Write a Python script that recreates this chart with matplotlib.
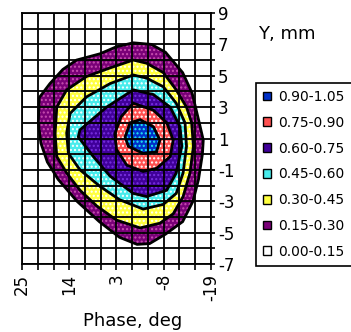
import matplotlib.pyplot as plt
from matplotlib.patches import Patch
import numpy as np

plt.rcParams['font.family'] = 'DejaVu Sans'
plt.rcParams['axes.unicode_minus'] = False
plt.rcParams['hatch.linewidth'] = 1.0

levels = ['0.00-0.15', '0.15-0.30', '0.30-0.45', '0.45-0.60',
          '0.60-0.75', '0.75-0.90', '0.90-1.05']
face = ['#FFFFFF', '#7A0078', '#FFFF40', '#48ECEC', '#40009A', '#FF5050', '#0030C8']
dots = ['#FFFFFF', '#C850B0', '#FFFFFF', '#FFFFFF', '#7830E0', '#FFFFFF', '#20E8F0']

# contour boundaries: phase (deg), Y (mm)
ph_015 = [-0.9, 3.0, 6.85, 12.3, 15.5, 18.5, 21.0, 21.2, 20.6, 19.1, 16.6, 12.2, 7.0, 2.3,
          -1.8, -4.7, -8.4, -12.4, -14.8, -16.1, -17.0, -17.2, -16.1, -14.6, -12.4, -8.4, -5.1]
y_015 = [7.1, 6.85, 6.4, 6.0, 5.4, 4.5, 3.6, 2.0, 0.7, -0.5, -1.6, -3.0, -4.3, -5.3,
         -5.75, -5.7, -5.1, -4.3, -3.0, -1.6, 0.0, 0.9, 2.2, 3.9, 5.2, 6.5, 7.0]

ph_030 = [-0.9, -4.0, -7.9, -10.9, -13.3, -14.5, -14.9, -14.1, -12.5, -10.2, -7.1, -2.5,
          3.0, 7.6, 11.5, 14.6, 16.9, 17.3, 16.9, 14.6, 10.0, 4.5]
y_030 = [6.0, 5.8, 5.2, 4.1, 3.0, 2.0, 0.5, -1.2, -2.7, -3.8, -4.4, -4.7,
         -4.2, -3.3, -2.3, -1.2, -0.15, 1.3, 3.0, 4.1, 4.95, 5.5]

ph_045 = [-0.9, -4.0, -7.9, -10.9, -12.95, -13.3, -12.5, -10.9, -7.9, -3.2, 2.3, 6.85,
          11.5, 14.2, 14.6, 13.8, 10.0, 4.5]
y_045 = [5.05, 4.85, 4.3, 3.25, 2.0, 0.5, -1.2, -2.5, -3.2, -3.5, -2.9, -2.05,
         -1.0, 0.05, 1.35, 2.6, 3.65, 4.5]

ph_060 = [-0.9, -5.6, -9.5, -11.8, -12.2, -10.9, -8.7, -4.0, -0.9, 4.5, 8.4, 11.9, 11.5, 5.3]
y_060 = [4.1, 3.8, 3.0, 1.75, 0.5, -1.2, -2.3, -2.7, -2.5, -1.4, -0.15, 1.1, 1.55, 3.0]

ph_075 = [-0.9, -5.6, -8.7, -10.2, -9.5, -6.35, -3.2, 0.6, 3.0, 3.4, 1.9]
y_075 = [3.25, 2.8, 2.0, 0.9, -0.15, -0.9, -1.1, -0.7, 0.3, 1.3, 2.4]

ph_090 = [-2.5, -5.6, -7.1, -6.35, -3.2, 0.25, 1.0, -0.15]
y_090 = [2.2, 1.75, 0.9, 0.15, 0.05, 0.5, 1.1, 2.0]

bounds = [(ph_015, y_015), (ph_030, y_030), (ph_045, y_045),
          (ph_060, y_060), (ph_075, y_075), (ph_090, y_090)]

phase_ticks = [25, 14, 3, -8, -19]
y_ticks = [9, 7, 5, 3, 1, -1, -3, -5, -7]

fig = plt.figure(figsize=(3.51, 3.32), dpi=100)
ax = fig.add_axes([22 / 351, 1 - 264 / 332, 189 / 351, 251 / 332])

for k, (px, py) in enumerate(bounds):
    ax.fill(px, py, facecolor=face[k + 1], edgecolor=dots[k + 1], hatch='....', lw=0)
    ax.fill(px, py, facecolor='none', edgecolor='k', lw=2)

ax.set_xlim(25, -19)
ax.set_ylim(-7, 9)
ax.set_xticks(phase_ticks)
ax.set_xticks(np.linspace(25, -19, 13), minor=True)
ax.set_yticks(y_ticks)
ax.set_yticks(np.arange(-7, 10), minor=True)
ax.set_xticklabels([str(t) for t in phase_ticks], rotation=90, fontsize=12)
ax.yaxis.tick_right()
ax.tick_params(axis='y', which='both', direction='out', length=3, width=1.2, pad=2, labelsize=12)
ax.tick_params(axis='x', which='both', direction='out', length=4, width=1.2, pad=3)
ax.set_axisbelow(False)
ax.grid(which='both', color='k', lw=1.3)
for s in ax.spines.values():
    s.set_linewidth(1.3)

fig.text(258 / 351, 1 - 34 / 332, 'Y, mm', fontsize=13, va='center', ha='left')
fig.text(133 / 351, 1 - 321 / 332, 'Phase, deg', fontsize=13, va='center', ha='center')

handles = [Patch(facecolor=face[k], edgecolor='k', lw=1) for k in range(6, -1, -1)]
leg = fig.legend(handles, levels[::-1], loc='upper left',
                 bbox_to_anchor=(256 / 351, 1 - 83 / 332), fontsize=10,
                 handlelength=0.6, handleheight=0.6, handletextpad=0.5,
                 labelspacing=0.85, borderpad=0.5, borderaxespad=0,
                 fancybox=False, framealpha=1, edgecolor='k')
leg.get_frame().set_linewidth(1.2)

plt.savefig('out.png', dpi=100)
plt.close()
